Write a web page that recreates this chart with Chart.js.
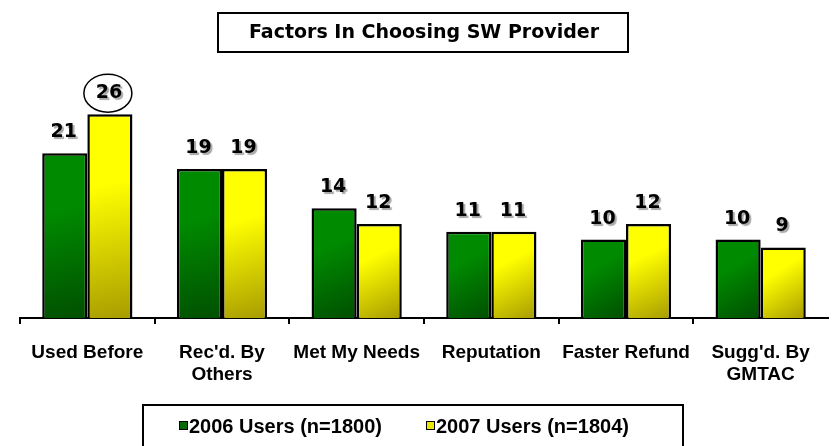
<!DOCTYPE html>
<html lang="en">
<head>
<meta charset="UTF-8">
<title>Factors In Choosing SW Provider</title>
<script src="https://cdn.jsdelivr.net/npm/chart.js"></script>
<style>
  html, body { margin: 0; padding: 0; background: #fff; }
  #wrap { width: 832px; height: 446px; }
</style>
</head>
<body>
<div id="wrap"><canvas id="swChart" width="832" height="446"></canvas></div>
<script>
const categories = ['Used Before', ["Rec'd. By", 'Others'], 'Met My Needs', 'Reputation', 'Faster Refund', ["Sugg'd. By", 'GMTAC']];
const users2006 = [21, 19, 14, 11, 10, 10];
const users2007 = [26, 19, 12, 11, 12, 9];
const seriesNames = ['2006 Users (n=1800)', '2007 Users (n=1804)'];
const circled = [[1, 0]];   // dataset, index of the value with a ring around it

const shades = [
    { top: '#008a00', bottom: '#004f00', swatch: '#086a08' },
    { top: '#ffff00', bottom: '#a89c00', swatch: '#e8e800' }
];
const catPct = 0.67;

function barFill(c) {
    const chart = c.chart;
    const s = shades[c.datasetIndex];
    if (!chart.chartArea || c.raw === undefined) return s.top;
    const x = chart.scales.x, y = chart.scales.y;
    const yTop = y.getPixelForValue(c.raw);
    const yBot = y.getPixelForValue(0);
    const w = x.width / categories.length * catPct / 2;
    const cx = x.getPixelForValue(c.dataIndex);
    const left = c.datasetIndex === 0 ? cx - w : cx;
    const g = chart.ctx.createLinearGradient(left, yTop, left + w, yBot);
    g.addColorStop(0, s.top);
    g.addColorStop(0.35, s.top);
    g.addColorStop(1, s.bottom);
    return g;
}

// boxes round title and legend, value labels, and the legend itself
const decor = {
    id: 'decor',
    afterDatasetsDraw(chart) {
        const ctx = chart.ctx;
        ctx.save();
        ctx.font = 'bold 19px "DejaVu Sans", Verdana, sans-serif';
        ctx.textAlign = 'center';
        ctx.textBaseline = 'middle';
        chart.data.datasets.forEach((ds, di) => {
            chart.getDatasetMeta(di).data.forEach((el, i) => {
                const ty = el.y - 21;
                ctx.save();
                ctx.shadowColor = 'rgba(0,0,0,0.35)';
                ctx.shadowOffsetX = 2;
                ctx.shadowOffsetY = 2;
                ctx.shadowBlur = 1;
                ctx.fillStyle = '#000';
                ctx.fillText(String(ds.data[i]), el.x - 1, ty);
                ctx.restore();
                if (circled.some(p => p[0] === di && p[1] === i)) {
                    ctx.beginPath();
                    ctx.ellipse(el.x - 2, ty, 24, 19, 0, 0, Math.PI * 2);
                    ctx.lineWidth = 1.5;
                    ctx.strokeStyle = '#000';
                    ctx.stroke();
                }
            });
        });
        ctx.restore();
    },
    afterDraw(chart) {
        const ctx = chart.ctx;
        ctx.save();
        ctx.strokeStyle = '#000';
        ctx.lineWidth = 2;
        ctx.strokeRect(218, 13, 410, 39);
        ctx.strokeRect(143, 405, 540, 50);

        ctx.font = 'bold 20px "Liberation Sans", Arial, sans-serif';
        ctx.textBaseline = 'middle';
        ctx.textAlign = 'left';
        const starts = [179, 426];
        seriesNames.forEach((name, i) => {
            ctx.fillStyle = shades[i].swatch;
            ctx.fillRect(starts[i], 421, 9, 9);
            ctx.lineWidth = 1;
            ctx.strokeRect(starts[i] + 0.5, 421.5, 8, 8);
            ctx.fillStyle = '#000';
            ctx.fillText(name, starts[i] + 10, 427);
        });
        ctx.restore();
    }
};

const barStyle = {
    categoryPercentage: catPct,
    barPercentage: 1,
    backgroundColor: barFill,
    borderColor: '#000',
    borderWidth: 2.5
};

new Chart(document.getElementById('swChart'), {
    type: 'bar',
    data: {
        labels: categories,
        datasets: [
            Object.assign({ label: seriesNames[0], data: users2006 }, barStyle),
            Object.assign({ label: seriesNames[1], data: users2007 }, barStyle)
        ]
    },
    options: {
        responsive: false,
        animation: false,
        layout: { padding: { left: 20, right: 4, bottom: 60 } },
        plugins: {
            legend: { display: false },
            tooltip: { enabled: false },
            title: {
                display: true,
                text: 'Factors In Choosing SW Provider',
                color: '#000',
                font: { family: '"DejaVu Sans", Verdana, sans-serif', size: 19, weight: 'bold', lineHeight: 1.2 },
                padding: { top: 22, bottom: 38 }
            }
        },
        scales: {
            y: { display: false, min: 0, max: 30 },
            x: {
                afterFit(s) { s.height = 68; },
                grid: {
                    offset: true,
                    drawOnChartArea: false,
                    drawTicks: true,
                    tickLength: 6,
                    lineWidth: 2,
                    color: c => (c.index === undefined ? 'rgba(0,0,0,0)' : '#000')
                },
                border: { display: true, color: '#000', width: 2 },
                ticks: {
                    color: '#000',
                    padding: 17,
                    maxRotation: 0,
                    autoSkip: false,
                    font: { family: '"Liberation Sans", Arial, sans-serif', size: 19, weight: 'bold', lineHeight: 1.2 }
                }
            }
        }
    },
    plugins: [decor]
});
</script>
</body>
</html>
